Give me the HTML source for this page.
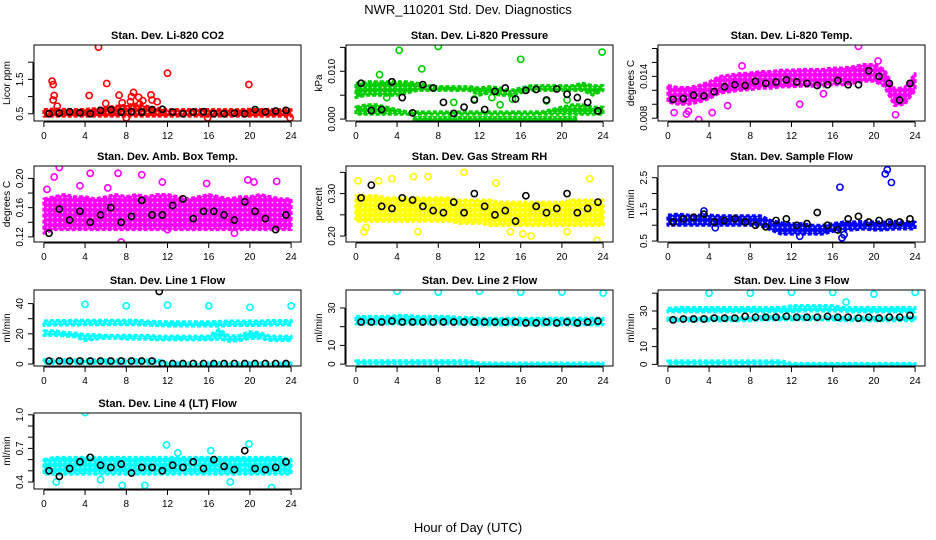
<!DOCTYPE html>
<html>
<head>
<meta charset="utf-8">
<style>
html,body{margin:0;padding:0;background:#fff;}
svg{display:block;font-family:"Liberation Sans",Arial,sans-serif;}
</style>
</head>
<body>
<svg id="chart" width="936" height="540" viewBox="0 0 936 540" xmlns="http://www.w3.org/2000/svg">
<text x="468" y="14" text-anchor="middle" font-size="13">NWR_110201  Std. Dev. Diagnostics</text>
<text x="468" y="532" text-anchor="middle" font-size="13">Hour of Day (UTC)</text>
</svg>
<script>
// ---------- data ----------
const HOURS = [0,1,2,3,4,5,6,7,8,9,10,11,12,13,14,15,16,17,18,19,20,21,22,23,24];
const BLACK_X = [0.5,1.5,2.5,3.5,4.5,5.5,6.5,7.5,8.5,9.5,10.5,11.5,12.5,13.5,14.5,15.5,16.5,17.5,18.5,19.5,20.5,21.5,22.5,23.5];
const X_TICKS = [0,4,8,12,16,20,24];

// Panel 1: CO2
const co2Lo = [0.43,0.43,0.43,0.43,0.43,0.43,0.43,0.43,0.43,0.43,0.43,0.43,0.43,0.43,0.43,0.43,0.43,0.43,0.43,0.43,0.43,0.43,0.43,0.43,0.43];
const co2Hi = [0.62,0.64,0.63,0.62,0.63,0.65,0.68,0.72,0.75,0.78,0.72,0.66,0.62,0.62,0.62,0.63,0.62,0.62,0.62,0.62,0.63,0.62,0.63,0.62,0.62];
const co2Black = [0.5,0.52,0.56,0.53,0.5,0.6,0.62,0.55,0.56,0.55,0.62,0.63,0.55,0.5,0.55,0.56,0.5,0.5,0.52,0.5,0.62,0.56,0.58,0.6];
const co2OutX = [5.3,0.8,0.9,1.0,0.9,4.4,6.1,7.3,8.7,8.5,9.2,9.6,10.4,10.5,11.0,12.0,19.9,1.3,8.0,15.9,23.9,6.0,7.6,9.3,8.4];
const co2OutY = [2.44,1.45,1.35,1.03,0.9,1.03,1.38,1.04,1.12,1.0,0.98,0.88,1.05,0.9,0.85,1.68,1.35,0.72,0.38,0.38,0.38,0.8,0.82,0.78,0.85];

// Panel 2: Pressure
const prLoA = [0.0045,0.005,0.005,0.005,0.005,0.0055,0.006,0.006,0.006,0.006,0.006,0.006,0.005,0.0055,0.005,0.005,0.0055,0.006,0.006,0.006,0.006,0.006,0.006,0.005,0.006];
const prHiA = [0.0075,0.0078,0.0078,0.0078,0.0078,0.0078,0.0075,0.007,0.0068,0.0068,0.0068,0.0068,0.0065,0.0068,0.0065,0.006,0.0065,0.007,0.007,0.007,0.007,0.007,0.0075,0.007,0.007];
const prLoB = [0.001,0.001,0.001,0.001,0.001,0.001,0.001,0.001,0.001,0.001,0.001,0.001,0.001,0.001,0.001,0.001,0.001,0.001,0.001,0.001,0.001,0.001,0.001,0.001,0.001];
const prHiB = [0.0025,0.003,0.003,0.0025,0.002,0.0015,0.0015,0.0015,0.0015,0.0015,0.0015,0.0015,0.0015,0.0015,0.0015,0.0015,0.0015,0.0015,0.0015,0.002,0.0025,0.003,0.003,0.0025,0.0025];
const prZeroRange = [5.5,21.5];
const prBlack = [0.0075,0.0018,0.002,0.0078,0.0045,0.0013,0.0072,0.0065,0.0035,0.0012,0.0025,0.004,0.002,0.0058,0.0065,0.0042,0.006,0.0062,0.004,0.0063,0.0052,0.0045,0.0035,0.0017];
const prOutX = [4.2,8.0,6.4,16.0,23.9,2.3,3.0,9.5,11.5,14.0,18.5,20.5,13.2,15.2,0.3];
const prOutY = [0.0144,0.0152,0.0105,0.0125,0.014,0.0093,0.0045,0.0035,0.0042,0.003,0.0038,0.004,0.0045,0.0042,0.006];

// Panel 3: Li-820 Temp
const tpLo = [0.0103,0.0100,0.0100,0.0103,0.0108,0.0116,0.0118,0.0120,0.0121,0.0123,0.0123,0.0125,0.0125,0.0126,0.0126,0.0126,0.0128,0.0128,0.0130,0.0133,0.0133,0.0126,0.0098,0.0100,0.0120];
const tpHi = [0.0127,0.0124,0.0124,0.0127,0.0132,0.0140,0.0142,0.0144,0.0145,0.0147,0.0147,0.0149,0.0149,0.0150,0.0150,0.0150,0.0152,0.0152,0.0154,0.0157,0.0157,0.0150,0.0122,0.0124,0.0144];
const tpBlack = [0.0107,0.0108,0.0113,0.0112,0.0118,0.0125,0.0128,0.0127,0.0133,0.013,0.0132,0.0135,0.0132,0.013,0.0127,0.0128,0.0134,0.0128,0.0128,0.0148,0.014,0.013,0.0106,0.013];
const tpOutX = [3.0,0.6,1.8,4.3,5.8,7.2,12.8,15.1,18.5,20.4,22.1,2.0];
const tpOutY = [0.0078,0.0088,0.0086,0.0088,0.0098,0.0155,0.0100,0.0115,0.0183,0.0162,0.0085,0.0090];

// Panel 4: Amb Box Temp
const abLo = [0.125,0.13,0.13,0.13,0.13,0.13,0.13,0.13,0.13,0.13,0.13,0.13,0.13,0.13,0.13,0.13,0.13,0.13,0.13,0.13,0.13,0.13,0.13,0.13,0.13];
const abHi = [0.172,0.175,0.178,0.175,0.175,0.172,0.175,0.178,0.175,0.178,0.175,0.178,0.178,0.175,0.172,0.175,0.178,0.175,0.172,0.175,0.175,0.178,0.175,0.172,0.172];
const abBlack = [0.125,0.158,0.143,0.155,0.14,0.15,0.16,0.14,0.148,0.17,0.15,0.15,0.163,0.172,0.145,0.155,0.155,0.15,0.143,0.168,0.155,0.145,0.13,0.15];
const abOutX = [1.0,1.5,4.5,7.2,9.5,11.5,15.8,20.4,22.6,0.3,3.5,7.5,12.0,18.5,19.8,6.2];
const abOutY = [0.202,0.215,0.207,0.207,0.205,0.195,0.193,0.195,0.196,0.185,0.19,0.113,0.13,0.125,0.198,0.187];

// Panel 5: Gas Stream RH
const rhLo = [0.235,0.235,0.235,0.235,0.235,0.235,0.235,0.235,0.235,0.235,0.23,0.23,0.23,0.225,0.225,0.225,0.225,0.225,0.225,0.225,0.225,0.225,0.225,0.225,0.225];
const rhHi = [0.295,0.295,0.295,0.29,0.29,0.29,0.29,0.29,0.29,0.29,0.285,0.285,0.285,0.285,0.28,0.28,0.28,0.28,0.28,0.28,0.28,0.285,0.285,0.285,0.285];
const rhBlack = [0.29,0.32,0.27,0.265,0.29,0.285,0.27,0.26,0.255,0.28,0.255,0.3,0.27,0.25,0.26,0.235,0.295,0.27,0.255,0.265,0.3,0.255,0.265,0.28];
const rhOutX = [0.2,0.8,2.2,3.5,5.6,7.0,10.5,13.6,15.0,17.0,20.5,22.7,23.4,1.0,6.0,16.2];
const rhOutY = [0.33,0.21,0.33,0.335,0.34,0.34,0.35,0.325,0.21,0.2,0.21,0.335,0.19,0.22,0.21,0.205];

// Panel 6: Sample Flow
const sfLo = [1.0,1.0,1.0,1.0,1.0,1.0,1.0,1.0,1.0,0.98,0.85,0.72,0.72,0.72,0.72,0.72,0.8,0.85,0.85,0.88,0.85,0.85,0.88,0.88,0.88];
const sfHi = [1.32,1.35,1.32,1.32,1.32,1.3,1.3,1.3,1.3,1.3,1.15,1.08,1.05,1.05,1.0,1.0,1.05,1.1,1.1,1.12,1.1,1.1,1.12,1.1,1.1];
const sfBlack = [1.1,1.2,1.25,1.35,1.1,1.15,1.2,1.1,1.0,0.95,1.15,1.2,1.0,1.05,1.4,1.0,0.85,1.2,1.28,1.1,1.15,1.1,1.1,1.2];
const sfOutX = [16.7,21.3,21.7,16.9,21.1,3.5,4.6,12.8,17.1];
const sfOutY = [2.2,2.75,2.35,0.6,2.62,1.45,0.92,0.65,0.7];

// Panel 7: Line 1 Flow
const l1LoA = [25.5,25.8,25.8,25.8,26,26,26,26,26,26,25.8,25.5,25.2,25.2,25.2,25.2,25.2,25,25.5,25.5,25.5,25.5,25.8,25.8,25.8];
const l1HiA = [28.5,28.8,28.8,29,29,29,29,29,29,29,28.5,28.2,28,28,28,28,28,28.2,28.5,28.5,28.5,28.5,28.8,28.8,28.8];
const l1LoB = [19,19,18.5,18,15.5,16.5,17,17,16.5,16.5,16.5,16,16,16,16,16,16,16.5,15,15.5,17,17,15.5,15.5,15.5];
const l1HiB = [22,22,21,20.5,19.5,19.5,19,19,19,19,19,18.5,18.5,18.5,18.5,18.5,18.5,23,18.5,19,21.5,20.5,18.5,18.5,18.5];
const l1LoC = [0.5,0.5,0.5,0.5,0.5,0.5,0.5,0.5,0.5,0.5,0.5,0.5,-0.3,-0.3,-0.3,-0.3,-0.3,-0.3,-0.3,-0.3,-0.3,-0.3,-0.3,-0.3,-0.3];
const l1HiC = [2.8,2.8,2.8,2.8,2.8,2.8,2.8,2.8,2.8,2.8,2.8,2.8,0.8,0.8,0.8,0.8,0.8,0.8,0.8,0.8,0.8,0.8,0.8,0.8,0.8];
const l1Black = [2,2,2,2,2,2,2,2,2,2,2,0.3,0.3,0.3,0.3,0.3,0.3,0.3,0.3,0.3,0.3,0.3,0.3,0.3];
const l1OutX = [4,8,12,16,20,24,11.2];
const l1OutY = [39.5,38.5,39,38.5,37.5,38.5,48];
const l1OutIsBlack = [0,0,0,0,0,0,1];

// Panel 8: Line 2 Flow
const l2LoA = [21.5,21.5,21.5,21.5,21.5,21.5,21.5,21.5,21.5,21.5,21.5,21.5,21,21,21,21,21,21,21,21,21,21,21,21,21];
const l2HiA = [25.5,25.5,25.5,25.5,26,26,25.5,25.5,25.5,25.5,25,25,24.5,24.5,24.5,24.5,24.5,24.5,24.5,24.5,24.5,24.5,24.5,24.5,24.5];
const l2LoC = [0.2,0.2,0.2,0.2,0.2,0.2,0.2,0.2,0.2,0.2,0.2,0.2,-0.4,-0.4,-0.4,-0.4,-0.4,-0.4,-0.4,-0.4,-0.4,-0.4,-0.4,-0.4,-0.4];
const l2HiC = [1.8,1.8,1.8,1.8,1.8,1.8,1.8,1.8,1.8,1.8,1.8,1.8,0.6,0.6,0.6,0.6,0.6,0.6,0.6,0.6,0.6,0.6,0.6,0.6,0.6];
const l2Black = [22.5,22.5,22.5,23,22.5,22.5,22.5,22.5,22.5,22.5,22.5,22.5,22.5,22.5,22.5,22.5,22,22,22.5,22,22.5,22,22.5,23];
const l2OutX = [4,8,12,16,20,24];
const l2OutY = [39,38.5,39,38.5,38.5,38];
const l2OutIsBlack = [0,0,0,0,0,0];

// Panel 9: Line 3 Flow
const l3LoA = [29.5,29.5,29.5,29.5,29.5,29.5,29.5,29.5,29.5,29.5,29.5,29.5,29.5,30,30,30,30,30,29.5,29.5,29.5,29.5,29.5,29.5,29.5];
const l3HiA = [31.5,32,32,32,32,32,32,32,32,32,32,32,33,33,33,33,33,32,32,32,32,32,32,32,32];
const l3LoB = [24.5,24.5,24.5,24.5,24.5,24.5,24.5,24.5,24.5,25,25,25,25,25,25,25,25,24.5,24.5,24.5,24.5,24.5,24.5,24.5,24.5];
const l3HiB = [26,26,26,26,26.5,26.5,26.5,26.5,26.5,27,27,27,27,27,27,27,27,26.5,26.5,26.5,26.5,26.5,26.5,26.5,26.5];
const l3LoC = [0.3,0.3,0.3,0.3,0.3,0.3,0.3,0.3,0.3,0.3,0.3,0.3,-0.4,-0.4,-0.4,-0.4,-0.4,-0.4,-0.4,-0.4,-0.4,-0.4,-0.4,-0.4,-0.4];
const l3HiC = [2,2,2,2,2,2,2,2,2,2,2,2,0.6,0.6,0.6,0.6,0.6,0.6,0.6,0.6,0.6,0.6,0.6,0.6,0.6];
const l3Black = [25,25.5,25.5,25.5,26,26,26,27,26.5,26.5,26.5,27,26.5,26.5,26.5,27,26.5,26.5,26,26.5,26,26.5,26.5,27.5];
const l3OutX = [4,8,12,16,20,24,17.3];
const l3OutY = [40,40,40.5,40.5,39.5,40.5,35];
const l3OutIsBlack = [0,0,0,0,0,0,0];

// Panel 10: Line 4 (LT) Flow
const l4Lo = [0.47,0.47,0.47,0.47,0.47,0.47,0.47,0.47,0.47,0.47,0.47,0.47,0.47,0.47,0.47,0.47,0.47,0.47,0.47,0.47,0.47,0.47,0.47,0.47,0.47];
const l4Hi = [0.6,0.62,0.62,0.62,0.62,0.62,0.62,0.62,0.62,0.62,0.62,0.62,0.62,0.62,0.62,0.62,0.62,0.62,0.62,0.62,0.62,0.62,0.62,0.62,0.6];
const l4Black = [0.5,0.45,0.52,0.58,0.62,0.55,0.53,0.56,0.48,0.53,0.53,0.5,0.55,0.53,0.58,0.52,0.6,0.54,0.51,0.68,0.52,0.51,0.53,0.58];
const l4OutX = [4.0,7.6,9.8,11.9,16.2,19.9,22.1,1.2,5.5,13.0,18.1];
const l4OutY = [1.02,0.37,0.37,0.73,0.68,0.74,0.35,0.4,0.42,0.66,0.4];

// ---------- drawing ----------
const svg = document.getElementById('chart');
const NS = 'http://www.w3.org/2000/svg';
function mk(tag, attrs, parent){
  const e = document.createElementNS(NS, tag);
  for (const k in attrs) e.setAttribute(k, attrs[k]);
  (parent||svg).appendChild(e);
  return e;
}
const defs = mk('defs', {});
const patterns = {};
function patternFor(color){
  if (patterns[color]) return patterns[color];
  const id = 'pat' + Object.keys(patterns).length;
  const p = mk('pattern', {id: id, width: 5, height: 5, patternUnits: 'userSpaceOnUse'}, defs);
  mk('rect', {x: 0, y: 0, width: 5, height: 5, fill: color}, p);
  mk('circle', {cx: 2.5, cy: 2.5, r: 0.9, fill: '#fff', 'fill-opacity': 0.8}, p);
  patterns[color] = id;
  return id;
}
const BOX_LEFTS = [34, 346, 658];
const BOX_TOPS = [45, 166, 290, 413];
const BOX_W = 267, BOX_H = 76;

function fmt(v, dec){ return v.toFixed(dec); }

function panel(cfg){
  const L = BOX_LEFTS[cfg.col], T = BOX_TOPS[cfg.row];
  const g = mk('g', {});
  
  
  const xs = h => L + (h + 0.96) / 25.92 * BOX_W;
  const ys = v => T + BOX_H - (v - cfg.ymin) / (cfg.ymax - cfg.ymin) * BOX_H;
  const clipId = 'clip-' + cfg.name;
  const cp = mk('clipPath', {id: clipId}, g);
  mk('rect', {x: L, y: T, width: BOX_W, height: BOX_H}, cp);
  const plot = mk('g', {'clip-path': 'url(#' + clipId + ')'}, g);
  
  
  const pat = 'url(#' + patternFor(cfg.color) + ')';

  cfg.bands.forEach(b => {
    let pts = [];
    for (let i = 0; i < HOURS.length; i++) pts.push(xs(HOURS[i]) + ',' + ys(b.hi[i]));
    for (let i = HOURS.length - 1; i >= 0; i--) pts.push(xs(HOURS[i]) + ',' + ys(b.lo[i]));
    const p = mk('polygon', {points: pts.join(' '), fill: pat, stroke: cfg.color, 'stroke-width': 3, 'stroke-linejoin': 'round', 'stroke-dasharray': '4 2'}, plot);
    
    
  });
  if (cfg.zeroRange){
    const z = mk('rect', {x: xs(cfg.zeroRange[0]), y: ys(0) - 3, width: xs(cfg.zeroRange[1]) - xs(cfg.zeroRange[0]), height: 6, fill: pat}, plot);
    
    
  }
  cfg.outX.forEach((x, i) => {
    const blk = cfg.outBlack && cfg.outBlack[i];
    const c = mk('circle', {cx: xs(x), cy: ys(cfg.outY[i]), r: 3.1, fill: 'none', stroke: blk ? '#000' : cfg.color, 'stroke-width': 1.6}, plot);
    
    
  });
  cfg.black.forEach((v, i) => {
    const c = mk('circle', {cx: xs(BLACK_X[i]), cy: ys(v), r: 3.1, fill: 'none', stroke: '#000', 'stroke-width': 1.6}, plot);
    
    
  });

  const box = mk('rect', {x: L, y: T, width: BOX_W, height: BOX_H, fill: 'none', stroke: '#000', 'stroke-width': 1}, g);
  
  
  const t = mk('text', {x: L + BOX_W / 2, y: T - 6, 'text-anchor': 'middle', 'font-size': 11, 'font-weight': 'bold'}, g);
  t.textContent = cfg.title;
  
  
  const xa = mk('g', {}, g);
  
  
  mk('line', {x1: xs(0), x2: xs(24), y1: T + BOX_H + 1, y2: T + BOX_H + 1, stroke: '#000'}, xa);
  X_TICKS.forEach(h => {
    mk('line', {x1: xs(h), x2: xs(h), y1: T + BOX_H + 1, y2: T + BOX_H + 6, stroke: '#000'}, xa);
    const tl = mk('text', {x: xs(h), y: T + BOX_H + 18, 'text-anchor': 'middle', 'font-size': 10}, xa);
    tl.textContent = h;
    
    
  });
  const ya = mk('g', {}, g);
  
  
  const yt0 = cfg.yticks[0], yt1 = cfg.yticks[cfg.yticks.length - 1];
  mk('line', {x1: L - 1, x2: L - 1, y1: ys(yt0), y2: ys(yt1), stroke: '#000'}, ya);
  cfg.yticks.forEach(v => {
    mk('line', {x1: L - 6, x2: L - 1, y1: ys(v), y2: ys(v), stroke: '#000'}, ya);
  });
  cfg.ylabels.forEach(v => {
    const yy = ys(v);
    const tl = mk('text', {x: L - 11, y: yy, 'text-anchor': 'middle', 'font-size': 10, transform: 'rotate(-90 ' + (L - 11) + ' ' + yy + ')'}, ya);
    tl.textContent = fmt(v, cfg.ydec);
    
    
  });
  const cy = T + BOX_H / 2;
  const yl = mk('text', {x: L - 24, y: cy, 'text-anchor': 'middle', 'font-size': 10, transform: 'rotate(-90 ' + (L - 24) + ' ' + cy + ')'}, ya);
  yl.textContent = cfg.ytitle;
  
  
}

panel({name:'panel-co2', col:0, row:0, title:'Stan. Dev. Li-820 CO2', color:'#ff0000', ymin:0.29, ymax:2.5,
  yticks:[0.5,1,1.5,2], ylabels:[0.5,1.5], ydec:1, ytitle:'Licor ppm',
  bands:[{lo:co2Lo, hi:co2Hi}], outX:co2OutX, outY:co2OutY, black:co2Black});
panel({name:'panel-pressure', col:1, row:0, title:'Stan. Dev. Li-820 Pressure', color:'#00cd00', ymin:-0.0004, ymax:0.0155,
  yticks:[0,0.005,0.01,0.015], ylabels:[0,0.01], ydec:3, ytitle:'kPa',
  bands:[{lo:prLoA, hi:prHiA},{lo:prLoB, hi:prHiB}], zeroRange:prZeroRange, outX:prOutX, outY:prOutY, black:prBlack});
panel({name:'panel-li820-temp', col:2, row:0, title:'Stan. Dev. Li-820 Temp.', color:'#ff00ff', ymin:0.0076, ymax:0.0185,
  yticks:[0.008,0.01,0.012,0.014,0.016,0.018], ylabels:[0.008,0.014], ydec:3, ytitle:'degrees C',
  bands:[{lo:tpLo, hi:tpHi}], outX:tpOutX, outY:tpOutY, black:tpBlack});
panel({name:'panel-amb-box-temp', col:0, row:1, title:'Stan. Dev. Amb. Box Temp.', color:'#ff00ff', ymin:0.113, ymax:0.217,
  yticks:[0.12,0.14,0.16,0.18,0.2], ylabels:[0.12,0.16,0.2], ydec:2, ytitle:'degrees C',
  bands:[{lo:abLo, hi:abHi}], outX:abOutX, outY:abOutY, black:abBlack});
panel({name:'panel-gas-stream-rh', col:1, row:1, title:'Stan. Dev. Gas Stream RH', color:'#ffff00', ymin:0.186, ymax:0.365,
  yticks:[0.2,0.25,0.3,0.35], ylabels:[0.2,0.3], ydec:2, ytitle:'percent',
  bands:[{lo:rhLo, hi:rhHi}], outX:rhOutX, outY:rhOutY, black:rhBlack});
panel({name:'panel-sample-flow', col:2, row:1, title:'Stan. Dev. Sample Flow', color:'#0000ff', ymin:0.47, ymax:2.87,
  yticks:[0.5,1,1.5,2,2.5], ylabels:[0.5,1.5,2.5], ydec:1, ytitle:'ml/min',
  bands:[{lo:sfLo, hi:sfHi}], outX:sfOutX, outY:sfOutY, black:sfBlack});
panel({name:'panel-line1-flow', col:0, row:2, title:'Stan. Dev. Line 1 Flow', color:'#00ffff', ymin:-1.3, ymax:49,
  yticks:[0,10,20,30,40], ylabels:[0,20,40], ydec:0, ytitle:'ml/min',
  bands:[{lo:l1LoA, hi:l1HiA},{lo:l1LoB, hi:l1HiB},{lo:l1LoC, hi:l1HiC}], outX:l1OutX, outY:l1OutY, outBlack:l1OutIsBlack, black:l1Black});
panel({name:'panel-line2-flow', col:1, row:2, title:'Stan. Dev. Line 2 Flow', color:'#00ffff', ymin:-1, ymax:39.6,
  yticks:[0,10,20,30], ylabels:[0,10,30], ydec:0, ytitle:'ml/min',
  bands:[{lo:l2LoA, hi:l2HiA},{lo:l2LoC, hi:l2HiC}], outX:l2OutX, outY:l2OutY, outBlack:l2OutIsBlack, black:l2Black});
panel({name:'panel-line3-flow', col:2, row:2, title:'Stan. Dev. Line 3 Flow', color:'#00ffff', ymin:-0.9, ymax:41.8,
  yticks:[0,10,20,30,40], ylabels:[0,10,30], ydec:0, ytitle:'ml/min',
  bands:[{lo:l3LoA, hi:l3HiA},{lo:l3LoB, hi:l3HiB},{lo:l3LoC, hi:l3HiC}], outX:l3OutX, outY:l3OutY, outBlack:l3OutIsBlack, black:l3Black});
panel({name:'panel-line4-flow', col:0, row:3, title:'Stan. Dev. Line 4 (LT) Flow', color:'#00ffff', ymin:0.3375, ymax:1.016,
  yticks:[0.4,0.5,0.6,0.7,0.8,0.9,1.0], ylabels:[0.4,0.7,1.0], ydec:1, ytitle:'ml/min',
  bands:[{lo:l4Lo, hi:l4Hi}], outX:l4OutX, outY:l4OutY, black:l4Black});
</script>
</body>
</html>
